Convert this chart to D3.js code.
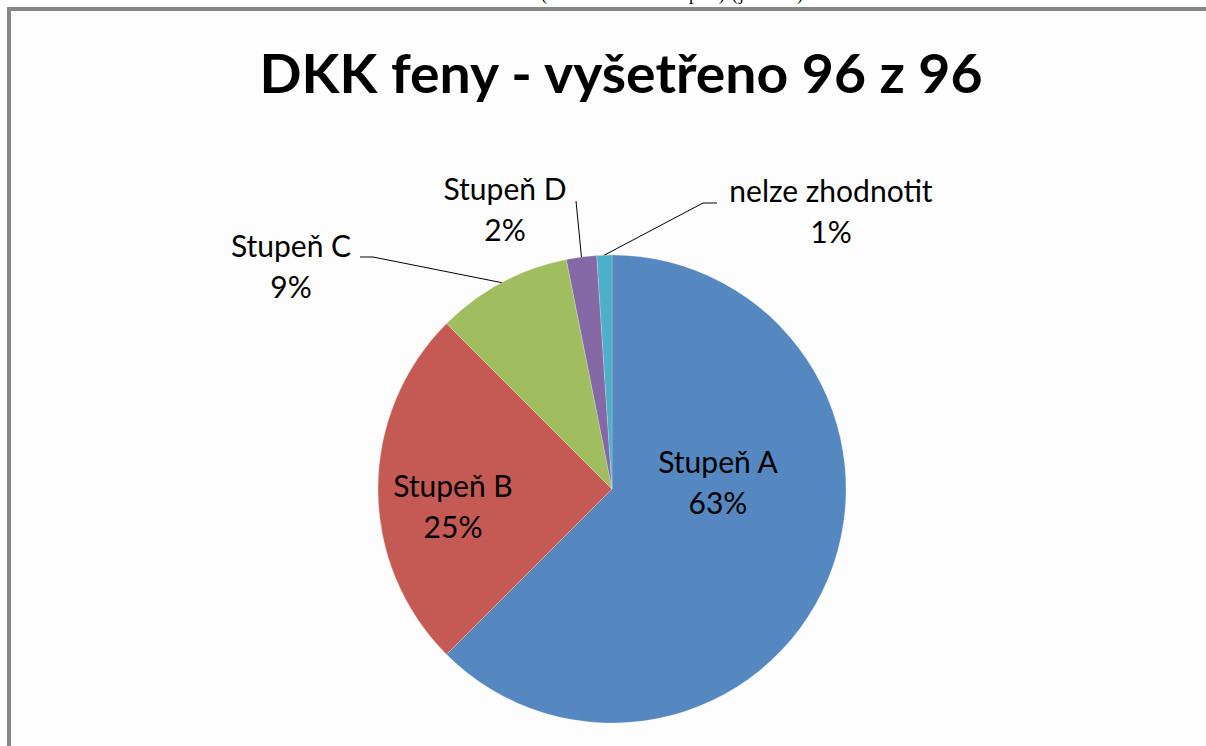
<!DOCTYPE html>
<html lang="cs">
<head>
    <meta charset="UTF-8">
    <title>DKK feny</title>
    <script src="https://d3js.org/d3.v7.min.js"></script>
    <style>
    html, body {
        margin: 0;
        padding: 0;
        background: #ffffff;
    }
    .label {
        font-family: Lato, "Open Sans", sans-serif;
        fill: #000000;
    }
    .leader {
        fill: none;
        stroke: #000000;
        stroke-width: 1;
    }
    </style>
</head>
<body>
<div id="chart"></div>
<script>

    // data
    var categories = ["Stupeň A", "Stupeň B", "Stupeň C", "Stupeň D", "nelze zhodnotit"];
    var counts = [60, 24, 9, 2, 1];
    var percents = ["63%", "25%", "9%", "2%", "1%"];
    var total = 96;
    var titleText = "DKK feny - vyšetřeno " + total + " z " + total;

    var colors = ["#5587C0", "#C55A55", "#A0BE5F", "#8568A6", "#4DAFC9"];

    var width = 1206,
        height = 746;

    var cx = 612, cy = 489, radius = 234;

    // label layout (relative to pie center)
    var labelPos = [
        {x: 106, y: -16, inside: true},
        {x: -159, y: 8, inside: true},
        {x: -321, y: -232, leader: {x: -252, y: -232}, elbow: -239},
        {x: -107, y: -289, leader: {x: -36, y: -288}, elbow: null},
        {x: 219, y: -287, leader: {x: 105, y: -286}, elbow: 91}
    ];

    var svg = d3.select("#chart").append("svg")
        .attr("width", width)
        .attr("height", height);

    // text of the page above the chart, cut off by the frame
    svg.append("text")
        .attr("x", 672)
        .attr("y", 0)
        .attr("text-anchor", "middle")
        .attr("textLength", 262)
        .style("font-family", "'Liberation Serif', serif")
        .style("font-size", "18px")
        .text("(rozdělení dle stupně) (jedinci)");

    // chart frame, runs past the right and bottom edge
    svg.append("rect")
        .attr("x", 9)
        .attr("y", 9)
        .attr("width", width + 20)
        .attr("height", height + 20)
        .attr("fill", "#fdfdfd")
        .attr("stroke", "#878787")
        .attr("stroke-width", 4);

    svg.append("text")
        .attr("x", 621)
        .attr("y", 93)
        .attr("text-anchor", "middle")
        .attr("textLength", 723)
        .attr("lengthAdjust", "spacingAndGlyphs")
        .style("font-family", "Lato, 'Open Sans', sans-serif")
        .style("font-weight", "bold")
        .style("font-size", "53px")
        .text(titleText);

    var pie = d3.pie().sort(null).value(function(d) { return d; });
    var arcs = pie(counts);

    var arc = d3.arc().innerRadius(0).outerRadius(radius);

    var g = svg.append("g")
        .attr("transform", "translate(" + cx + "," + cy + ")");

    g.selectAll("path.slice").data(arcs).enter().append("path")
        .attr("class", "slice")
        .attr("d", arc)
        .attr("fill", function(d, i) { return colors[i]; })
        .attr("stroke", "#ffffff")
        .attr("stroke-opacity", 0.35)
        .attr("stroke-width", 0.6);

    // leader lines from the slice edge to the label
    arcs.forEach(function(d, i) {
        var p = labelPos[i];
        if (p.inside) return;
        var mid = (d.startAngle + d.endAngle) / 2;
        var ex = radius * Math.sin(mid),
            ey = -radius * Math.cos(mid);
        var pts = [[ex, ey]];
        if (p.elbow !== null) pts.push([p.elbow, p.leader.y]);
        pts.push([p.leader.x, p.leader.y]);
        g.append("path")
            .attr("class", "leader")
            .attr("d", d3.line()(pts));
    });

    // labels
    arcs.forEach(function(d, i) {
        var p = labelPos[i];
        var t = g.append("text")
            .attr("class", "label")
            .attr("text-anchor", "middle")
            .style("font-size", "30px");
        t.append("tspan").attr("x", p.x).attr("y", p.y).text(categories[i]);
        t.append("tspan").attr("x", p.x).attr("y", p.y + 41).text(percents[i]);
    });

</script>
</body>
</html>
